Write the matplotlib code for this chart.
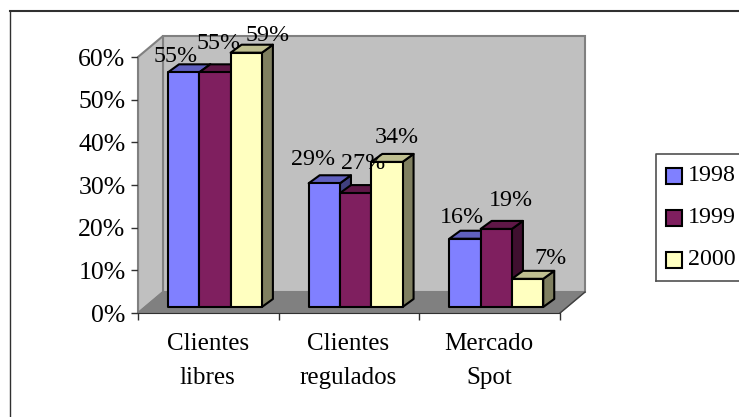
import matplotlib
matplotlib.use("Agg")
import matplotlib.pyplot as plt
from matplotlib.patches import Polygon, Rectangle
from matplotlib.lines import Line2D

categories = ["Clientes\nlibres", "Clientes\nregulados", "Mercado\nSpot"]
series_names = ["1998", "1999", "2000"]
values_1998 = [55, 29, 16]
values_1999 = [55, 26.7, 18.3]
values_2000 = [59.6, 34, 6.6]
labels_1998 = ["55%", "29%", "16%"]
labels_1999 = ["55%", "27%", "19%"]
labels_2000 = ["59%", "34%", "7%"]
y_ticks = [0, 10, 20, 30, 40, 50, 60]

W, H = 739, 417
FS = 17.3
plt.rcParams['font.family'] = ['Liberation Serif', 'DejaVu Serif']
fig = plt.figure(figsize=(W/100, H/100), dpi=100, facecolor='white')

# outer frame (top and left only are in view)
fig.add_artist(Line2D([9.5/W, 1], [1-10.5/H, 1-10.5/H], color='#303030', lw=1.5))
fig.add_artist(Line2D([9.5/W, 9.5/W], [1-10.5/H, 0], color='#303030', lw=1.0))

L, R, Y0, Y60 = 138.0, 560.0, 313.0, 57.0
ax = fig.add_axes([L/W, 1-Y0/H, (R-L)/W, (Y0-Y60)/H])
ax.set_xlim(0, 3)
ax.set_ylim(0, 60)
ax.patch.set_visible(False)
for s in ax.spines.values():
    s.set_visible(False)

px = 3/(R-L)            # data units per pixel, x
py = 60/(Y0-Y60)        # data units per pixel, y
wall_dx, wall_dy = 25*px, 21*py
bar_w = 31.3*px
first = 30*px
gap_y = 6*py
depth_x, depth_y = 11*px, 8*py

def P(pts, **k):
    ax.add_patch(Polygon(pts, closed=True, clip_on=False, **k))

wall = '#C0C0C0'
edge = '#808080'
# back wall
P([(wall_dx, wall_dy), (3+wall_dx, wall_dy), (3+wall_dx, 60+wall_dy), (wall_dx, 60+wall_dy)],
  facecolor=wall, edgecolor=edge, lw=1.5, zorder=1)
# side wall
P([(0, 0), (wall_dx, wall_dy), (wall_dx, 60+wall_dy), (0, 60)],
  facecolor=wall, edgecolor=edge, lw=1.5, zorder=1)
# floor
P([(0, 0), (3, 0), (3+wall_dx, wall_dy), (wall_dx, wall_dy)],
  facecolor='#808080', edgecolor='#808080', lw=1, zorder=1.5)
ax.plot([3, 3+wall_dx], [0, wall_dy], color='#404040', lw=1, clip_on=False, zorder=1.6)

colors = [('#8080FF', '#6060BF', '#40407F'),
          ('#7F1F5F', '#5F1747', '#3F0F2F'),
          ('#FFFFC0', '#BFBF90', '#7F7F60')]
series = [values_1998, values_1999, values_2000]
labels = [labels_1998, labels_1999, labels_2000]
# label placement relative to the bar's front-top centre, in pixels (right, up)
lab_off = [[(-8, 15.5), (-11, 23.5), (-3, 21.5)],
           [(4, 28.5), (8, 29.5), (15, 28.5)],
           [(21, 17.5), (10, 24.5), (23, 20.5)]]

for c in range(3):
    for s in range(3):
        v = series[s][c]
        x0 = c + first + s*bar_w
        x1 = x0 + bar_w
        b = gap_y
        t = gap_y + v
        fc, tc, sc = colors[s]
        z = 3 + c*3 + s*0.1
        kw = dict(edgecolor='black', lw=1.5, joinstyle='round', zorder=z)
        P([(x1, b), (x1+depth_x, b+depth_y), (x1+depth_x, t+depth_y), (x1, t)], facecolor=sc, **kw)
        P([(x0, t), (x1, t), (x1+depth_x, t+depth_y), (x0+depth_x, t+depth_y)], facecolor=tc, **kw)
        ax.add_patch(Rectangle((x0, b), bar_w, v, facecolor=fc, clip_on=False, **kw))

for c in range(3):
    for s in range(3):
        x0 = c + first + s*bar_w
        t = gap_y + series[s][c]
        dx, dy = lab_off[s][c]
        ax.text(x0 + bar_w/2 + dx*px, t + dy*py, labels[s][c], ha='center', va='center',
                fontsize=FS, color='black', zorder=30, clip_on=False)

ax.set_yticks(y_ticks)
ax.set_yticklabels([f"{v}%" for v in y_ticks], fontsize=18.5)
ax.set_xticks([0, 1, 2, 3])
ax.set_xticklabels([])
ax.tick_params(axis='both', length=5, width=1, color='#303030', pad=4)
ax.spines['left'].set_visible(True)
ax.spines['left'].set_color('#808080')
ax.spines['bottom'].set_visible(True)
ax.spines['bottom'].set_color('#303030')
for c, name in enumerate(categories):
    ax.text(c+0.495, -48*py, name, ha='center', va='center', fontsize=18, linespacing=1.75)

# legend
fig.add_artist(Line2D([655.5/W, 655.5/W, 1], [1-281/H, 1-153.5/H, 1-153.5/H], color='#505050', lw=1.2))
fig.add_artist(Line2D([655.5/W, 1], [1-281/H, 1-281/H], color='#505050', lw=1.2))
for i, name in enumerate(series_names):
    yc = 176 + i*42
    fig.add_artist(Rectangle((665.5/W, 1-(yc+8)/H), 16/W, 16/H, facecolor=colors[i][0],
                             edgecolor='black', lw=1.5, transform=fig.transFigure))
    fig.text(688/W, 1-(yc-0.5)/H, name, ha='left', va='center', fontsize=FS)

fig.savefig('out.png', dpi=100, facecolor='white')
